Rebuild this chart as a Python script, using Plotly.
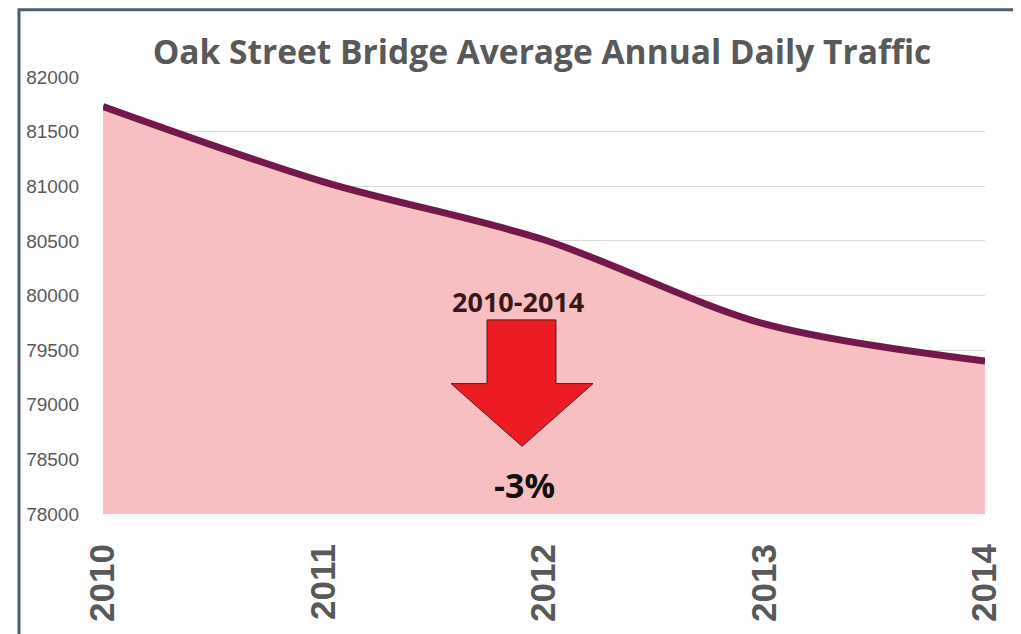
import plotly.graph_objects as go

years = [2010, 2011, 2012, 2013, 2014]
traffic = [81730, 81040, 80510, 79740, 79400]
y_ticks = [78000, 78500, 79000, 79500, 80000, 80500, 81000, 81500, 82000]
title_text = "Oak Street Bridge Average Annual Daily Traffic"
period_label = "2010-2014"
change_label = "-3%"

# page body has an 8px default margin; compensate so the figure lands where the reference is
OFF = 8
W, H = 1021 - OFF, 634 - OFF
PL, PR, PT, PB = 103, 985, 77, 516   # plot-area edges in reference pixels
L = PL - OFF
R = W - (PR - OFF)
T = PT - OFF
B = H - (PB - OFF)

fig = go.Figure()
fig.add_trace(go.Scatter(
    x=years, y=traffic, mode="lines",
    line=dict(color="#74184c", width=7, shape="spline", smoothing=0.9),
    fill="tozeroy", fillcolor="#f7bfc1",
    hoverinfo="skip", showlegend=False,
))

def px(xp):
    return (xp - PL) / (PR - PL)

def py(yp):
    return (PB - yp) / (PB - PT)

# arrow
pts = [(487, 321), (556, 321), (556, 385), (593, 385), (522, 448), (451, 385), (487, 385)]
path = "M " + " L ".join(f"{px(a):.4f},{py(b):.4f}" for a, b in pts) + " Z"
fig.add_shape(type="path", path=path, xref="paper", yref="paper",
              fillcolor="#ed1c24", line=dict(color="#5a1a1a", width=1), layer="above")

# frame
fig.add_shape(type="rect", xref="paper", yref="paper",
              x0=px(19), x1=px(1060), y0=py(680), y1=py(9.5),
              line=dict(color="#4e6070", width=3), fillcolor="rgba(0,0,0,0)", layer="above")

fig.add_annotation(x=px(518), y=py(303), xref="paper", yref="paper", text=f"<b>{period_label}</b>",
                   xanchor="center", yanchor="middle",
                   showarrow=False, font=dict(family="Open Sans", size=27, color="#3a1818"))
fig.add_annotation(x=px(524), y=py(487), xref="paper", yref="paper", text=f"<b>{change_label}</b>",
                   xanchor="center", yanchor="middle",
                   showarrow=False, font=dict(family="Open Sans", size=34, color="#111111"))

fig.update_layout(
    width=W, height=H,
    margin=dict(l=L, r=R, t=T, b=B),
    paper_bgcolor="white", plot_bgcolor="white",
    title=dict(text=f"<b>{title_text}</b>", x=(542 - OFF) / W, xanchor="center",
               y=1 - (52 - OFF) / H, yanchor="middle",
               xref="container", yref="container",
               font=dict(family="Open Sans", size=33.5, color="#595959")),
)
fig.update_xaxes(range=[2010, 2014], tickmode="array", tickvals=years, ticktext=[str(y) for y in years],
                 tickangle=-90, showgrid=False, zeroline=False, showline=False, ticks="",
                 ticklabelstandoff=22,
                 tickfont=dict(family="Liberation Sans", size=35, color="#595959", weight="bold"))
fig.update_yaxes(range=[78000, 82000], tickmode="array", tickvals=y_ticks,
                 ticktext=[str(v) for v in y_ticks], showgrid=True,
                 gridcolor="#d9d9d9", gridwidth=1, zeroline=False, showline=False, ticks="",
                 ticklabelstandoff=23,
                 tickfont=dict(family="Liberation Sans", size=19, color="#595959"))

fig.write_html("out.html")
